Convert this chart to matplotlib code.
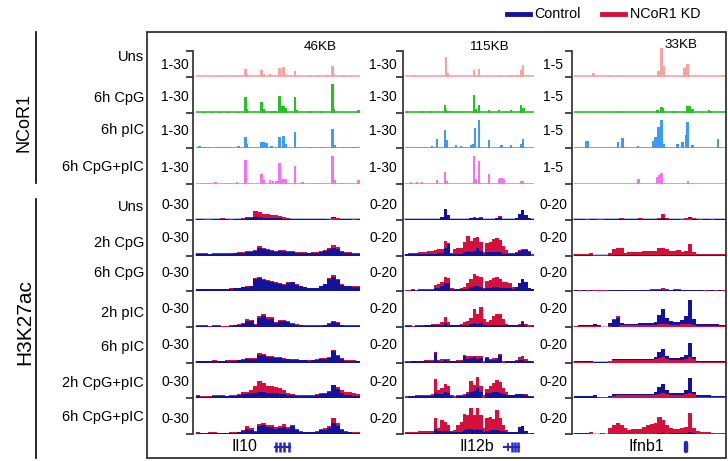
import matplotlib.pyplot as plt
from matplotlib.lines import Line2D
from matplotlib.patches import Rectangle

plt.rcParams['font.family'] = ['Liberation Sans', 'DejaVu Sans']

# ---- labels ----
ncor1_rows = ['Uns', '6h CpG', '6h pIC', '6h CpG+pIC']
k27_rows = ['Uns', '2h CpG', '6h CpG', '2h pIC', '6h pIC', '2h CpG+pIC', '6h CpG+pIC']
genes = ['Il10', 'Il12b', 'Ifnb1']
region_sizes = ['46KB', '115KB', '33KB']
ncor1_scale = ['1-30', '1-30', '1-5']
k27_scale = ['0-30', '0-20', '0-20']

ncor1_colors = ['#f7a3a3', '#22c422', '#3d9bf5', '#f570f5']
ctrl_color = '#12129e'
kd_color = '#d6103c'
gene_color = '#2424c8'

# ---- NCoR1 ChIP peaks: (position in locus 0-1, signal) ----
il10_ncor1 = [
    [(0.16, 1), (0.22, 1), (0.25, 1.5), (0.27, 1), (0.303, 8), (0.31, 3), (0.40, 7), (0.41, 3),
     (0.451, 3), (0.508, 9), (0.532, 10), (0.545, 3), (0.604, 6), (0.61, 2), (0.70, 1.5),
     (0.75, 1.5), (0.80, 1.5), (0.831, 11), (0.84, 3), (0.90, 1.5), (0.95, 1)],
    [(0.05, 1), (0.10, 1), (0.15, 1), (0.20, 1), (0.26, 1), (0.303, 16), (0.31, 4), (0.40, 11),
     (0.41, 4), (0.42, 2), (0.46, 2), (0.48, 2), (0.508, 17), (0.52, 7), (0.532, 7), (0.545, 5),
     (0.604, 16), (0.615, 3), (0.70, 1.5), (0.76, 1.5), (0.831, 29), (0.84, 4), (0.92, 1), (0.99, 3)],
    [(0.02, 2), (0.05, 1.5), (0.08, 1.5), (0.15, 1.5), (0.20, 1.5), (0.26, 2), (0.303, 11),
     (0.31, 4), (0.40, 6), (0.415, 6), (0.43, 5), (0.46, 2), (0.508, 11), (0.532, 12), (0.545, 4),
     (0.604, 16), (0.64, 1.5), (0.70, 1.5), (0.76, 1.5), (0.831, 19), (0.845, 3), (0.90, 1.5), (0.96, 1.5)],
    [(0.03, 1.5), (0.08, 1.5), (0.12, 2.5), (0.20, 1.5), (0.25, 2), (0.303, 24), (0.40, 10),
     (0.41, 4), (0.451, 4), (0.47, 3), (0.49, 3), (0.508, 21), (0.52, 5), (0.532, 5), (0.545, 5),
     (0.604, 18), (0.65, 2), (0.72, 1.5), (0.78, 1.5), (0.831, 28), (0.845, 4), (0.90, 1.5), (0.99, 4)],
]
il12b_ncor1 = [
    [(0.07, 2), (0.315, 20), (0.33, 4), (0.535, 7), (0.574, 8), (0.736, 2), (0.81, 2), (0.87, 1.5),
     (0.897, 7), (0.917, 12)],
    [(0.013, 2), (0.134, 2), (0.20, 1.5), (0.31, 8), (0.32, 3), (0.354, 2), (0.432, 2), (0.535, 18),
     (0.55, 4), (0.574, 8), (0.651, 3), (0.729, 3), (0.78, 2), (0.819, 3), (0.897, 8), (0.91, 5), (0.922, 5)],
    [(0.10, 1.5), (0.16, 1.5), (0.212, 2), (0.245, 9), (0.31, 18), (0.328, 8), (0.393, 3), (0.432, 2),
     (0.46, 1.5), (0.509, 3), (0.525, 4), (0.54, 20), (0.574, 28), (0.651, 8), (0.742, 3), (0.755, 3),
     (0.819, 3), (0.897, 4), (0.917, 9)],
    [(0.044, 2), (0.096, 2), (0.134, 2), (0.245, 4), (0.31, 12), (0.328, 3), (0.535, 28), (0.55, 5),
     (0.574, 23), (0.651, 10), (0.729, 5), (0.74, 6), (0.755, 6), (0.767, 5), (0.897, 3), (0.917, 3)],
]
ifnb1_ncor1 = [
    [(0.127, 4), (0.241, 2), (0.296, 2), (0.555, 6), (0.577, 29), (0.592, 11), (0.724, 9),
     (0.735, 10), (0.746, 13), (0.987, 2)],
    [(0.296, 2), (0.548, 3), (0.577, 6), (0.585, 5), (0.658, 2), (0.746, 7), (0.755, 7), (0.763, 7),
     (0.779, 4), (0.888, 3), (0.898, 2)],
    [(0.083, 7), (0.093, 7), (0.289, 6), (0.318, 10), (0.421, 2), (0.522, 7), (0.537, 11), (0.555, 21),
     (0.565, 8), (0.577, 28), (0.592, 4), (0.68, 4), (0.713, 6), (0.735, 13), (0.746, 26), (0.779, 3),
     (0.948, 9)],
    [(0.423, 5), (0.548, 7), (0.559, 9), (0.577, 11), (0.75, 3)],
]

# ---- H3K27ac binned signal (40 bins per locus), rows follow k27_rows ----
il10_ctrl = [
    [0.5, 0.5, 0.5, 0.5, 0.5, 0.5, 0.5, 0.5, 0.5, 0.5, 0.5, 1, 1.5, 1.5, 3, 3, 2, 2, 2, 2,
     1.5, 1, 1, 0.5, 0.5, 0.5, 0.5, 0.5, 0.5, 0.5, 0.5, 0.5, 1, 3, 1.5, 0.5, 0.5, 0.5, 0.5, 0.5],
    [2, 2, 2, 1.5, 2, 2, 2, 2, 2, 2.5, 3, 3, 4, 4, 5, 8, 7, 6, 5, 4,
     5, 5, 4, 4, 3, 3, 3, 2.5, 3, 3, 4, 5, 7, 8, 7, 4, 3, 3, 2, 2],
    [2, 2, 2, 2, 2, 2, 2, 2, 2.5, 3, 3, 4, 4.5, 5, 12, 13, 11, 10, 9, 8,
     7, 6, 8, 9, 6, 5, 4, 3, 3, 3, 5, 7, 12, 14, 11, 6, 5, 5, 4.5, 4],
    [1, 1, 1, 1, 1, 1, 1, 1, 1, 1.5, 2, 3, 6, 6, 2, 9, 11, 8, 8, 4,
     6, 6, 5, 3, 2, 1.5, 1, 1, 1, 1, 1, 1.5, 3, 5, 4, 1.5, 1, 1, 1, 1],
    [1.5, 1.5, 1.5, 1.5, 2, 1.5, 1.5, 2, 2, 2, 2.5, 3, 4, 4, 4, 8, 8, 6, 6, 5,
     5, 4, 3.5, 3, 3, 2.5, 2.5, 2, 2.5, 3, 4, 4, 5, 12, 7, 4, 2, 2, 2, 1.5],
    [2, 1.5, 1.5, 1.5, 2, 2, 2, 2, 2, 2.5, 3, 4, 4, 5, 5, 6, 6, 5, 5, 5,
     4, 4, 3.5, 3, 2.5, 2, 2, 2.5, 2.5, 3, 4, 4, 6, 13, 9, 5, 3, 3, 2.5, 2],
    [1.5, 1, 1, 1.5, 1.5, 1, 1, 1, 1.5, 1.5, 2, 3, 5, 4, 2, 8, 9, 7, 7, 5,
     6, 7, 5, 8, 4, 2.5, 2, 2, 2, 2.5, 4, 4, 6, 11, 8, 4, 2, 2, 1.5, 1.5],
]
il10_kd = [
    [1, 1, 0.5, 0.5, 1, 1, 1.5, 1, 0.5, 1, 1, 2, 3, 3, 9, 8, 6, 6, 5, 5,
     4, 3, 2, 1, 1, 1, 1, 1, 1, 1, 1, 1, 1, 2, 1.5, 1, 1, 1, 0.5, 1],
    [2.5, 2.5, 2.5, 2, 2.5, 2.5, 2.5, 2.5, 2.5, 3, 3.5, 3.5, 5, 4.5, 6, 10, 8, 7, 6, 5,
     6, 5.5, 4.5, 4.5, 3.5, 3.5, 3.5, 3, 3.5, 3.5, 4.5, 6, 8, 11, 9, 5, 3.5, 3.5, 2.5, 2.5],
    [2.5, 2.5, 2.5, 2.5, 2.5, 2.5, 2.5, 2.5, 3, 3.5, 3.5, 4.5, 5, 5.5, 13, 14.5, 12, 11, 10, 9,
     8, 7, 9, 9.5, 7, 5.5, 4.5, 3.5, 3.5, 3.5, 5.5, 7.5, 13, 16, 12, 7, 5.5, 5.5, 5.5, 5],
    [1.5, 1.5, 1.5, 1, 1.5, 1.5, 1, 1, 1.5, 2, 2.5, 3.5, 8, 7, 3, 11, 13, 10, 10, 5,
     7, 7, 6, 4, 2.5, 2, 1.5, 1.5, 1.5, 1.5, 1.5, 2, 4, 6, 5, 2, 1.5, 1.5, 1.5, 1.5],
    [2, 2, 2, 2, 2.5, 2, 2, 2.5, 2.5, 2.5, 3, 3.5, 4.5, 4.5, 4.5, 10, 9, 7, 6.5, 5.5,
     5.5, 4.5, 4, 3.5, 3.5, 3, 3, 2.5, 3, 3.5, 4.5, 4.5, 5.5, 12.5, 7.5, 4.5, 2.5, 2.5, 2.5, 2],
    [3, 2.5, 2.5, 2.5, 3, 3, 3, 2.5, 3, 3.5, 4, 6, 6, 8, 12, 17, 15, 12, 12, 11,
     10, 8, 5, 4, 3.5, 3, 3, 3, 3, 4, 5, 5, 7, 13.5, 11, 8, 6, 6, 5, 4],
    [2, 1.5, 1.5, 2, 2, 1.5, 1.5, 1.5, 2, 2, 2.5, 4, 8, 6, 3, 10, 11, 9, 9, 7,
     8, 10, 7, 9, 5, 3, 2.5, 2.5, 2.5, 3, 5, 6, 8, 16, 11, 5, 3, 2.5, 2, 2],
]
il12b_ctrl = [
    [0.5, 0.5, 0.5, 0.5, 0.5, 0.5, 0.5, 0.5, 0.5, 1, 1, 3, 11, 5, 1, 0.5, 0.5, 1, 1, 1,
     1.5, 2, 1.5, 1.5, 1, 0.5, 1, 1, 1.5, 2.5, 1, 0.5, 1, 1, 2, 6, 10, 5, 1.5, 0.5],
    [1.5, 1.5, 2, 2, 2, 2, 2, 2, 2, 2, 2.5, 3, 8, 12, 2, 2, 2, 2, 4, 5,
     4, 5, 8, 5, 2, 4, 4, 4, 4, 4, 2, 2, 2, 2, 3, 5, 6, 6, 4, 2],
    [1.5, 1.5, 1.5, 1.5, 1.5, 1.5, 1.5, 1.5, 1.5, 3, 3, 5, 8, 8, 2, 2, 2, 2, 2, 2,
     4, 5, 5, 4, 2, 3, 3, 4, 4, 3, 3, 3, 3, 2, 4, 8, 12, 9, 3, 2],
    [1, 1, 1, 1, 1, 1, 1.5, 1.5, 1.5, 1.5, 1.5, 2, 4, 2, 1.5, 1.5, 1.5, 1.5, 2, 2,
     3, 4, 3, 4, 2, 1.5, 2, 2, 2, 2, 1.5, 1.5, 1.5, 1.5, 1.5, 2, 5, 2, 1.5, 1],
    [1, 1, 1.5, 1.5, 1.5, 1.5, 2, 2, 2, 10, 2, 2, 3, 2, 1.5, 1.5, 2, 2, 7, 4,
     5, 6, 4, 5, 2, 5, 3, 3, 4, 8, 2, 1.5, 1.5, 1.5, 2, 3, 3, 2, 1.5, 1],
    [2, 2, 2, 2, 2, 2, 2, 2, 2, 5, 4, 4, 6, 5, 2, 2, 2, 2, 2, 4,
     6, 7, 10, 6, 3, 5, 5, 6, 6, 5, 4, 3, 3, 3, 4, 4, 4, 3, 2, 1.5],
    [1.5, 1.5, 1.5, 1.5, 1.5, 1.5, 1.5, 1.5, 1.5, 5, 3, 3, 3, 3, 2, 2, 2, 2, 4, 5,
     5, 4, 5, 4, 2, 3, 4, 4, 4, 3, 3, 2, 2, 2, 2, 7, 8, 3, 1.5, 1],
]
il12b_kd = [
    [0.7, 0.7, 0.7, 0.7, 0.7, 0.7, 0.7, 0.7, 0.7, 1.2, 1.2, 3.2, 11.2, 5.2, 1.2, 0.7, 0.7, 1.2, 1.2, 1.2,
     2, 2.3, 1.7, 2.8, 1.2, 0.7, 1.2, 1.2, 1.7, 3.3, 1.2, 0.7, 1.2, 1.2, 2.2, 6.2, 10.2, 5.2, 1.7, 0.7],
    [2, 2.5, 3, 3, 3.5, 4, 4, 4.5, 5, 6, 7, 7, 15, 13, 3, 7, 8, 8, 14, 20,
     15, 18, 19, 14, 4, 13, 14, 17, 18, 16, 10, 6, 3, 2.5, 3.5, 5.5, 6.5, 6.5, 4.5, 2],
    [1.5, 1.5, 2, 1.5, 2, 2, 2, 2, 2.5, 6, 7, 9, 14, 13, 3, 2.5, 2.5, 3, 4, 8,
     12, 17, 15, 14, 3, 10, 11, 13, 14, 12, 9, 9, 8, 4, 4.5, 8.5, 12.5, 9.5, 3.5, 2.5],
    [1.5, 1.5, 1, 1.5, 1.5, 1.5, 2, 2, 2.5, 2.5, 3, 5, 10, 5, 2, 2, 2, 3, 5, 6,
     9, 18, 13, 20, 8, 5, 7, 11, 13, 13, 8, 3, 2, 2, 2, 3, 5.5, 3, 1.5, 1.5],
    [1.5, 1.5, 2, 2, 2, 2, 2.5, 2.5, 2.5, 10.5, 3, 4, 4, 4, 2, 2, 2.5, 2.5, 7.5, 7,
     7, 7, 7, 7, 2, 5.5, 4, 5, 5, 8.5, 2, 2, 2, 2, 3, 6, 7, 4, 2, 1.5],
    [2, 2.5, 2.5, 3, 3, 3, 3.5, 3.5, 4, 19, 8, 10, 14, 12, 3, 2, 3, 3.5, 4, 6,
     17, 13, 21, 12, 3, 9, 12, 15, 18, 16, 10, 6, 3.5, 3.5, 4.5, 4.5, 4.5, 4, 2.5, 2],
    [2, 2, 2, 2, 3, 3, 3, 3, 3, 16, 6, 14, 12, 9, 3, 4, 9, 12, 20, 19,
     26, 19, 26, 19, 6, 16, 17, 15, 24, 16, 9, 4, 2.5, 2.5, 2.5, 7.5, 8.5, 3.5, 1.5, 1.5],
]
ifnb1_ctrl = [
    [0.5, 0.5, 0.5, 0.5, 0.5, 0.5, 0.5, 0.5, 0.5, 0.5, 0.5, 0.5, 0.5, 0.5, 0.5, 0.5, 0.5, 0.5, 0.5, 0.5,
     0.5, 0.5, 1, 2, 0.5, 0.5, 0.5, 0.5, 1, 1.5, 3, 1, 0.5, 0.5, 0.5, 0.5, 0.5, 0.5, 0.5, 0.5],
    [0.3, 0.3, 0.3, 0.3, 0.3, 0.8, 0.8, 0.8, 0.8, 0.3, 0.3, 0.5, 0.5, 0.3, 0.3, 0.5, 0.5, 0.3, 0.5, 0.3,
     0.5, 0.5, 1, 1, 0.5, 0.5, 0.5, 0.5, 0.5, 1, 1, 0.5, 0.3, 0.3, 0.3, 0.3, 0.3, 0.3, 0.3, 0.3],
    [0.8, 0.5, 0.8, 0.5, 0.8, 0.5, 0.5, 0.5, 0.5, 0.8, 0.8, 0.8, 1, 0.8, 0.8, 0.8, 1, 0.8, 1, 1,
     1.2, 1.2, 1.5, 1.5, 1.2, 1, 1, 1.2, 1, 0.8, 1, 0.8, 0.8, 0.8, 0.5, 0.8, 0.8, 0.5, 0.8, 0.5],
    [1, 1.5, 1.5, 1.5, 1.5, 3, 1.5, 0.3, 0.3, 4, 7, 9, 4, 3, 3, 3, 3, 4, 4, 4,
     4, 5, 12, 18, 9, 6, 5, 5, 7, 11, 27, 8, 3, 3, 3, 3, 3, 3, 1.5, 1.5],
    [1.5, 1.5, 1.5, 1.5, 1.5, 0.3, 0.3, 0.3, 0.3, 2, 4, 4, 4, 4, 4, 4, 4, 4, 4, 4,
     4, 6, 11, 14, 7, 5, 5, 5, 6, 8, 20, 6, 2, 2, 2, 2, 2, 2, 2, 2],
    [2, 2, 2, 2, 2, 3, 0.3, 0.3, 0.3, 2, 4, 4, 4, 4, 4, 4, 4, 4, 4, 4,
     4, 6, 11, 14, 8, 5, 5, 5, 5, 8, 20, 6, 3, 3, 3, 3, 2, 2, 2, 2],
    [0.8, 0.8, 0.8, 0.8, 0.5, 0, 0, 0.5, 0, 0.5, 0.5, 0.5, 0.5, 0.5, 0.5, 0.5, 0.5, 0.5, 0.5, 0.5,
     0.5, 0.5, 0.8, 0.8, 0.5, 1.5, 1.5, 1.5, 1.5, 1.5, 2, 1, 0.5, 0.5, 0.5, 0.5, 0.5, 0.5, 0.5, 0.5],
]
ifnb1_kd = [
    [1, 1, 1, 0.5, 1, 1, 0.5, 0.5, 1, 1, 1, 1, 1.5, 1, 1, 1, 1, 1.5, 1, 1,
     1, 1, 2, 6, 2, 1, 1, 1, 1, 1.5, 2, 1.5, 1, 0.5, 1, 1, 0.5, 1, 1, 1],
    [2, 2, 2, 2, 3, 0.3, 0.3, 0.3, 0.3, 3, 7, 8, 8, 3, 4, 4, 4, 4, 5, 5,
     5, 5, 8, 8, 7, 5, 5, 6, 4, 5, 12, 4, 2, 2, 2, 2, 2, 2, 2, 1.5],
    [1, 1, 1, 0.8, 1, 1, 0.8, 1, 1, 1.2, 1.2, 1.5, 1.5, 1.2, 1.2, 1.5, 1.5, 1.5, 1.5, 1.5,
     2, 2, 2.5, 3, 2, 1.5, 2, 2, 1.5, 1.5, 1.5, 1.2, 1.2, 1.2, 1, 1.2, 1, 1, 1, 1],
    [0.5, 0.5, 0.5, 0.5, 0.5, 0.5, 0.5, 0.3, 0.3, 1, 8, 11, 2, 1.5, 1.5, 1.5, 1.5, 2, 2, 2,
     2, 2, 3, 3, 2.5, 2, 2, 2, 2.5, 3, 3, 2, 1, 1, 1, 1, 1, 1, 0.5, 0.5],
    [0.5, 0.5, 0.5, 0.5, 0.5, 1, 1, 1, 1, 1.5, 2.5, 3, 3, 3, 3, 3, 3, 3, 3, 3,
     3, 3.5, 5, 6, 4, 3, 3, 3, 3, 4, 6, 4, 1, 1, 1, 1, 1, 1, 1, 1],
    [0.5, 0.5, 0.5, 0.5, 0.5, 0.5, 1, 1, 1, 1.5, 2.5, 3, 3, 3, 3, 3, 3, 3, 3, 3,
     3, 3.5, 4, 5, 4, 3, 3, 3, 3, 4, 5, 4, 1.5, 1.5, 1.5, 1.5, 1, 1, 1, 1],
    [0.5, 0.5, 0.5, 0.5, 2, 0, 0, 1, 0, 6, 9, 11, 9, 6, 4, 5, 5, 5, 7, 9,
     10, 11, 17, 14, 9, 6, 5, 5, 6, 7, 21, 6, 3, 2, 2, 2, 1.5, 1.5, 1.5, 1.5],
]

# ---- gene models (locus fraction) ----
gene_label_x = [0.293, 0.558, 0.474]
gene_span = [(0.482, 0.573), (0.767, 0.884), (0.737, 0.737)]
gene_exons = [[0.488, 0.512, 0.537, 0.567], [0.798, 0.829, 0.853, 0.876], [0.737]]

ncor1_data = [il10_ncor1, il12b_ncor1, ifnb1_ncor1]
ctrl_data = [il10_ctrl, il12b_ctrl, ifnb1_ctrl]
kd_data = [il10_kd, il12b_kd, ifnb1_kd]

# ---- layout (pixels) ----
W, H = 728, 461
fig = plt.figure(figsize=(W / 100, H / 100), dpi=100)


def fx(px):
    return px / W


def fy(py):
    return 1 - py / H


spine_x = [193, 403, 572]
data_x0 = [196, 405, 574]
data_x1 = [360, 534, 726]
scale_x = [175, 383, 553]
kb_pos = [(320, 47), (489, 47), (681, 45)]
track_h = 35.7
baselines = [77 + track_h * i for i in range(11)]
row_label_y = [57, 98, 130, 167, 207, 243, 273, 313, 347, 383, 417]
scale_y = [65, 97, 131, 168, 205, 238, 273, 309, 345, 382, 419]
spine_col = '#3a3a3a'

all_rows = ncor1_rows + k27_rows
for y, lab in zip(row_label_y, all_rows):
    fig.text(fx(144), fy(y), lab, ha='right', va='center', fontsize=10.5)

for c in range(3):
    m = (data_x0[c] - spine_x[c]) / (data_x1[c] - data_x0[c])
    for i in range(11):
        b = baselines[i]
        ax = fig.add_axes([fx(spine_x[c]), fy(b), fx(data_x1[c]) - fx(spine_x[c]), track_h / H])
        ax.set_facecolor('none')
        ax.set_xlim(-m, 1)
        ax.set_ylim(0, track_h)
        for s in ['top', 'right', 'bottom']:
            ax.spines[s].set_visible(False)
        ax.spines['left'].set_color(spine_col)
        ax.spines['left'].set_linewidth(1.3)
        ax.set_xticks([])
        if i == 0:
            ax.spines['left'].set_bounds(0, 26)
            ax.set_yticks([0, 26])
        else:
            ax.set_yticks([0])
        ax.tick_params(axis='y', length=5, width=1.3, color=spine_col, labelleft=False)

        if i < 4:
            col = ncor1_colors[i]
            pk = ncor1_data[c][i]
            ax.plot([0, 1], [0.6, 0.6], color=col, lw=1.2, solid_capstyle='butt')
            ax.bar([p[0] for p in pk], [p[1] for p in pk], width=0.016, color=col,
                   linewidth=0, clip_on=False)
            lab = ncor1_scale[c]
        else:
            ctrl = ctrl_data[c][i - 4]
            kd = kd_data[c][i - 4]
            n = len(ctrl)
            xs = [(k + 0.5) / n for k in range(n)]
            hi = [max(a, r) for a, r in zip(ctrl, kd)]
            lo = [min(a, r) for a, r in zip(ctrl, kd)]
            hi_c = [ctrl_color if a >= r else kd_color for a, r in zip(ctrl, kd)]
            lo_c = [kd_color if a >= r else ctrl_color for a, r in zip(ctrl, kd)]
            ax.plot([0, 1], [0.3, 0.3], color='#b4b4ee', lw=1.4, zorder=0.5)
            ax.bar(xs, hi, width=1.0 / n + 0.002, color=hi_c, linewidth=0)
            ax.bar(xs, lo, width=1.0 / n + 0.002, color=lo_c, linewidth=0)
            lab = k27_scale[c]
        fig.text(fx(scale_x[c]), fy(scale_y[i]), lab, ha='center', va='center', fontsize=10)

    fig.text(fx(kb_pos[c][0]), fy(kb_pos[c][1]), region_sizes[c], ha='center', va='center',
             fontsize=9.7)

    # gene model track
    gax = fig.add_axes([fx(spine_x[c]), fy(458), fx(data_x1[c]) - fx(spine_x[c]), 22 / H])
    gax.set_xlim(-m, 1)
    gax.set_ylim(-1, 1)
    gax.axis('off')
    s0, s1 = gene_span[c]
    if s1 > s0:
        gax.plot([s0, s1], [0, 0], color=gene_color, lw=1.5)
    if c == 2:
        gax.vlines(gene_exons[c], -0.4, 0.4, color=gene_color, lw=3.2, capstyle='round')
    elif c == 1:
        gax.vlines(gene_exons[c][0], -0.35, 0.35, color=gene_color, lw=1.3)
        gax.vlines(gene_exons[c][1:], -0.45, 0.45, color=gene_color, lw=1.8)
    else:
        gax.vlines(gene_exons[c], -0.45, 0.45, color=gene_color, lw=1.8)
    gax.text(gene_label_x[c], 0.05, genes[c], ha='center', va='center', fontsize=11.5)

# frame around the tracks
fig.add_artist(Rectangle((fx(147), fy(458)), fx(726) - fx(147), (458 - 32) / H, fill=False,
                         lw=1.3, ec='#333333', transform=fig.transFigure))

# group brackets
fig.add_artist(Line2D([fx(36), fx(36)], [fy(32), fy(183)], color='black', lw=1.2))
fig.add_artist(Line2D([fx(36), fx(36)], [fy(199), fy(458)], color='black', lw=1.2))
fig.text(fx(24.5), fy(122), 'NCoR1', rotation=90, ha='center', va='center', fontsize=13)
fig.text(fx(24.5), fy(322), 'H3K27ac', rotation=90, ha='center', va='center', fontsize=15)

# legend
fig.add_artist(Line2D([fx(507), fx(530)], [fy(14), fy(14)], color=ctrl_color, lw=3.5))
fig.text(fx(534), fy(14), 'Control', ha='left', va='center', fontsize=10.3)
fig.add_artist(Line2D([fx(602), fx(625)], [fy(14), fy(14)], color=kd_color, lw=3.5))
fig.text(fx(630), fy(14), 'NCoR1 KD', ha='left', va='center', fontsize=10.3)

fig.savefig('out.png', dpi=100)
